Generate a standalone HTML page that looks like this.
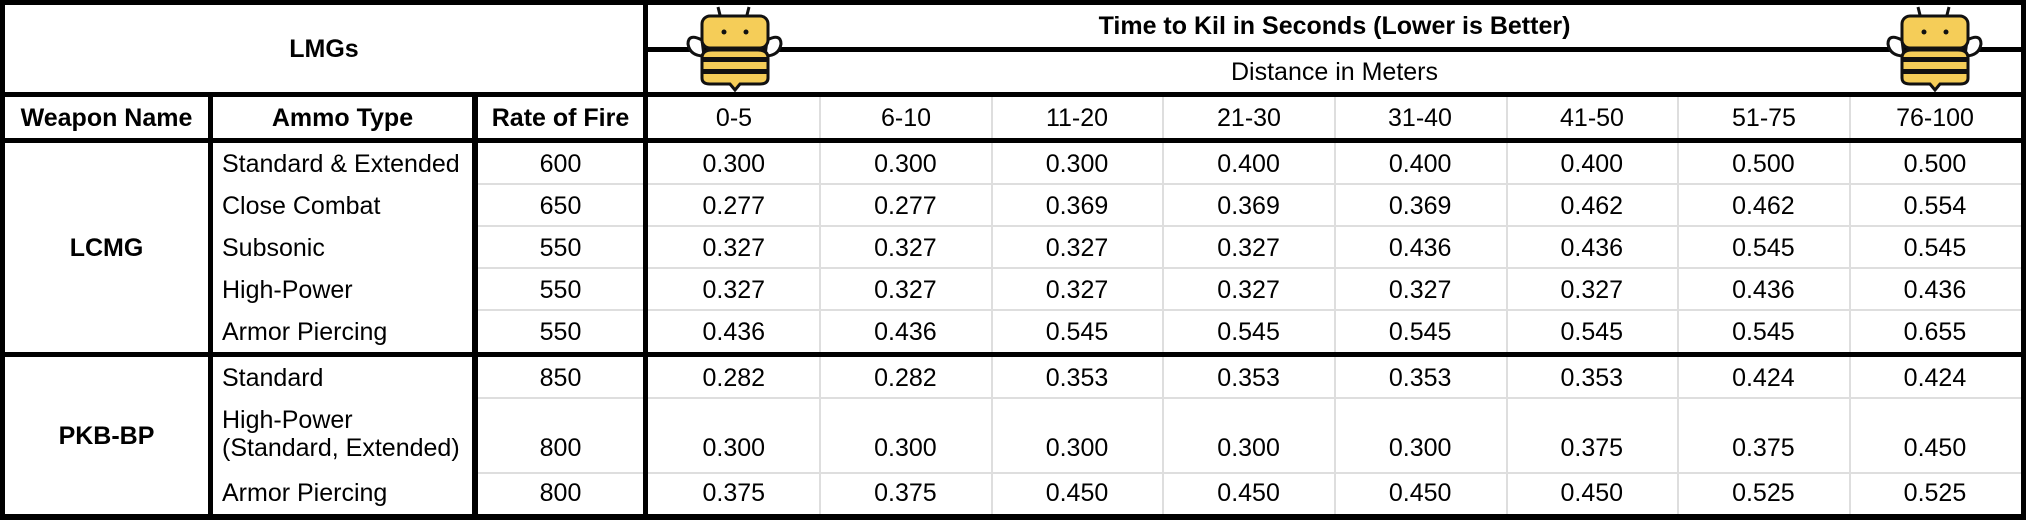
<!DOCTYPE html>
<html><head><meta charset="utf-8"><style>
body{margin:0;background:#fff;}
#c{position:relative;width:2026px;height:520px;overflow:hidden;background:#fff;font-family:"Liberation Sans",Arial,sans-serif;color:#000;font-size:25px;}
.b{position:absolute;background:#000;}
.g{position:absolute;background:#dedede;}
.t{position:absolute;display:flex;align-items:center;justify-content:center;white-space:nowrap;line-height:28px;}
.l{justify-content:flex-start;}
.bo{font-weight:bold;}
</style></head><body><div id="c">
<!-- gray lines -->
<div class="g" style="left:478px;top:183px;width:1545px;height:2px"></div>
<div class="g" style="left:478px;top:225px;width:1545px;height:2px"></div>
<div class="g" style="left:478px;top:267px;width:1545px;height:2px"></div>
<div class="g" style="left:478px;top:309px;width:1545px;height:2px"></div>
<div class="g" style="left:478px;top:397px;width:1545px;height:2px"></div>
<div class="g" style="left:478px;top:472px;width:1545px;height:2px"></div>
<div class="g" style="left:819px;top:97px;width:2px;height:420px"></div>
<div class="g" style="left:991px;top:97px;width:2px;height:420px"></div>
<div class="g" style="left:1162px;top:97px;width:2px;height:420px"></div>
<div class="g" style="left:1334px;top:97px;width:2px;height:420px"></div>
<div class="g" style="left:1506px;top:97px;width:2px;height:420px"></div>
<div class="g" style="left:1677px;top:97px;width:2px;height:420px"></div>
<div class="g" style="left:1849px;top:97px;width:2px;height:420px"></div>
<!-- black lines -->
<div class="b" style="left:0;top:0;width:2026px;height:5px"></div>
<div class="b" style="left:0;top:514px;width:2026px;height:6px"></div>
<div class="b" style="left:0;top:0;width:5px;height:520px"></div>
<div class="b" style="left:2021px;top:0;width:5px;height:520px"></div>
<div class="b" style="left:0;top:92px;width:2026px;height:5px"></div>
<div class="b" style="left:0;top:138px;width:2026px;height:5px"></div>
<div class="b" style="left:0;top:352px;width:2026px;height:5px"></div>
<div class="b" style="left:648px;top:47px;width:1378px;height:5px"></div>
<div class="b" style="left:208px;top:92px;width:5px;height:428px"></div>
<div class="b" style="left:472px;top:92px;width:6px;height:428px"></div>
<div class="b" style="left:643px;top:0;width:5px;height:520px"></div>
<!-- bees -->
<svg width="2026" height="100" style="position:absolute;left:0;top:0">
<defs><g id="bee">
<path d="M80 15 L78 7 M107 15 L109 7" stroke="#111" stroke-width="3" fill="none"/>
<path d="M62 40 Q48 33 48 44 Q50 56 64 56 Z" fill="#fff" stroke="#111" stroke-width="3"/>
<path d="M127 40 Q141 33 141 44 Q139 56 125 56 Z" fill="#fff" stroke="#111" stroke-width="3"/>
<rect x="62" y="16" width="66" height="32" rx="8" fill="#f5cd58" stroke="#111" stroke-width="3"/>
<circle cx="84" cy="32" r="2.5" fill="#111"/><circle cx="106" cy="32" r="2.5" fill="#111"/>
<path d="M62 58 Q62 50 72 50 L118 50 Q128 50 128 58 L128 78 Q128 84 120 84 L100 84 L95 90 L90 84 L70 84 Q62 84 62 78 Z" fill="#f5cd58" stroke="#111" stroke-width="3"/>
<rect x="62" y="57" width="66" height="5" fill="#111"/><rect x="62" y="69" width="66" height="5" fill="#111"/>
</g></defs>
<use href="#bee" x="640" y="0"/><use href="#bee" x="1840" y="0"/>
</svg>
<!-- headers -->
<div class="t bo" style="left:5px;top:5px;width:638px;height:87px">LMGs</div>
<div class="t bo" style="left:648px;top:5px;width:1373px;height:42px">Time to Kil in Seconds (Lower is Better)</div>
<div class="t" style="left:648px;top:52px;width:1373px;height:40px">Distance in Meters</div>
<div class="t bo" style="left:5px;top:97px;width:203px;height:41px">Weapon Name</div>
<div class="t bo" style="left:213px;top:97px;width:259px;height:41px">Ammo Type</div>
<div class="t bo" style="left:478px;top:97px;width:165px;height:41px">Rate of Fire</div>
<div class="t" style="left:648px;top:97px;width:172px;height:41px">0-5</div>
<div class="t" style="left:820px;top:97px;width:172px;height:41px">6-10</div>
<div class="t" style="left:991px;top:97px;width:172px;height:41px">11-20</div>
<div class="t" style="left:1163px;top:97px;width:172px;height:41px">21-30</div>
<div class="t" style="left:1334px;top:97px;width:172px;height:41px">31-40</div>
<div class="t" style="left:1506px;top:97px;width:172px;height:41px">41-50</div>
<div class="t" style="left:1678px;top:97px;width:172px;height:41px">51-75</div>
<div class="t" style="left:1849px;top:97px;width:172px;height:41px">76-100</div>
<div class="t bo" style="left:5px;top:143px;width:203px;height:209px">LCMG</div>
<div class="t bo" style="left:5px;top:357px;width:203px;height:157px">PKB-BP</div>
<!-- rows -->
<div style="position:absolute;left:0;top:143px">
<div class="t l" style="left:222px;top:0;height:41px">Standard &amp; Extended</div><div class="t" style="left:478px;top:0;width:165px;height:41px">600</div>
<div class="t l" style="left:222px;top:42px;height:41px">Close Combat</div><div class="t" style="left:478px;top:42px;width:165px;height:41px">650</div>
<div class="t l" style="left:222px;top:84px;height:41px">Subsonic</div><div class="t" style="left:478px;top:84px;width:165px;height:41px">550</div>
<div class="t l" style="left:222px;top:126px;height:41px">High-Power</div><div class="t" style="left:478px;top:126px;width:165px;height:41px">550</div>
<div class="t l" style="left:222px;top:168px;height:41px">Armor Piercing</div><div class="t" style="left:478px;top:168px;width:165px;height:41px">550</div>
<div class="t l" style="left:222px;top:214px;height:41px">Standard</div><div class="t" style="left:478px;top:214px;width:165px;height:41px">850</div>
<div class="t l" style="left:222px;top:263px;height:28px">High-Power</div>
<div class="t l" style="left:222px;top:291px;height:28px">(Standard, Extended)</div><div class="t" style="left:478px;top:291px;width:165px;height:28px">800</div>
<div class="t l" style="left:222px;top:330px;height:40px">Armor Piercing</div><div class="t" style="left:478px;top:330px;width:165px;height:40px">800</div>
</div>
<div style="position:absolute;left:648px;top:143px">
<div style="position:absolute;top:0;display:flex"><div class="t" style="position:relative;width:171.6px;height:41px">0.300</div><div class="t" style="position:relative;width:171.6px;height:41px">0.300</div><div class="t" style="position:relative;width:171.6px;height:41px">0.300</div><div class="t" style="position:relative;width:171.6px;height:41px">0.400</div><div class="t" style="position:relative;width:171.6px;height:41px">0.400</div><div class="t" style="position:relative;width:171.6px;height:41px">0.400</div><div class="t" style="position:relative;width:171.6px;height:41px">0.500</div><div class="t" style="position:relative;width:171.6px;height:41px">0.500</div></div>
<div style="position:absolute;top:42px;display:flex"><div class="t" style="position:relative;width:171.6px;height:41px">0.277</div><div class="t" style="position:relative;width:171.6px;height:41px">0.277</div><div class="t" style="position:relative;width:171.6px;height:41px">0.369</div><div class="t" style="position:relative;width:171.6px;height:41px">0.369</div><div class="t" style="position:relative;width:171.6px;height:41px">0.369</div><div class="t" style="position:relative;width:171.6px;height:41px">0.462</div><div class="t" style="position:relative;width:171.6px;height:41px">0.462</div><div class="t" style="position:relative;width:171.6px;height:41px">0.554</div></div>
<div style="position:absolute;top:84px;display:flex"><div class="t" style="position:relative;width:171.6px;height:41px">0.327</div><div class="t" style="position:relative;width:171.6px;height:41px">0.327</div><div class="t" style="position:relative;width:171.6px;height:41px">0.327</div><div class="t" style="position:relative;width:171.6px;height:41px">0.327</div><div class="t" style="position:relative;width:171.6px;height:41px">0.436</div><div class="t" style="position:relative;width:171.6px;height:41px">0.436</div><div class="t" style="position:relative;width:171.6px;height:41px">0.545</div><div class="t" style="position:relative;width:171.6px;height:41px">0.545</div></div>
<div style="position:absolute;top:126px;display:flex"><div class="t" style="position:relative;width:171.6px;height:41px">0.327</div><div class="t" style="position:relative;width:171.6px;height:41px">0.327</div><div class="t" style="position:relative;width:171.6px;height:41px">0.327</div><div class="t" style="position:relative;width:171.6px;height:41px">0.327</div><div class="t" style="position:relative;width:171.6px;height:41px">0.327</div><div class="t" style="position:relative;width:171.6px;height:41px">0.327</div><div class="t" style="position:relative;width:171.6px;height:41px">0.436</div><div class="t" style="position:relative;width:171.6px;height:41px">0.436</div></div>
<div style="position:absolute;top:168px;display:flex"><div class="t" style="position:relative;width:171.6px;height:41px">0.436</div><div class="t" style="position:relative;width:171.6px;height:41px">0.436</div><div class="t" style="position:relative;width:171.6px;height:41px">0.545</div><div class="t" style="position:relative;width:171.6px;height:41px">0.545</div><div class="t" style="position:relative;width:171.6px;height:41px">0.545</div><div class="t" style="position:relative;width:171.6px;height:41px">0.545</div><div class="t" style="position:relative;width:171.6px;height:41px">0.545</div><div class="t" style="position:relative;width:171.6px;height:41px">0.655</div></div>
<div style="position:absolute;top:214px;display:flex"><div class="t" style="position:relative;width:171.6px;height:41px">0.282</div><div class="t" style="position:relative;width:171.6px;height:41px">0.282</div><div class="t" style="position:relative;width:171.6px;height:41px">0.353</div><div class="t" style="position:relative;width:171.6px;height:41px">0.353</div><div class="t" style="position:relative;width:171.6px;height:41px">0.353</div><div class="t" style="position:relative;width:171.6px;height:41px">0.353</div><div class="t" style="position:relative;width:171.6px;height:41px">0.424</div><div class="t" style="position:relative;width:171.6px;height:41px">0.424</div></div>
<div style="position:absolute;top:291px;display:flex"><div class="t" style="position:relative;width:171.6px;height:28px">0.300</div><div class="t" style="position:relative;width:171.6px;height:28px">0.300</div><div class="t" style="position:relative;width:171.6px;height:28px">0.300</div><div class="t" style="position:relative;width:171.6px;height:28px">0.300</div><div class="t" style="position:relative;width:171.6px;height:28px">0.300</div><div class="t" style="position:relative;width:171.6px;height:28px">0.375</div><div class="t" style="position:relative;width:171.6px;height:28px">0.375</div><div class="t" style="position:relative;width:171.6px;height:28px">0.450</div></div>
<div style="position:absolute;top:330px;display:flex"><div class="t" style="position:relative;width:171.6px;height:40px">0.375</div><div class="t" style="position:relative;width:171.6px;height:40px">0.375</div><div class="t" style="position:relative;width:171.6px;height:40px">0.450</div><div class="t" style="position:relative;width:171.6px;height:40px">0.450</div><div class="t" style="position:relative;width:171.6px;height:40px">0.450</div><div class="t" style="position:relative;width:171.6px;height:40px">0.450</div><div class="t" style="position:relative;width:171.6px;height:40px">0.525</div><div class="t" style="position:relative;width:171.6px;height:40px">0.525</div></div>
</div>
</div></body></html>
